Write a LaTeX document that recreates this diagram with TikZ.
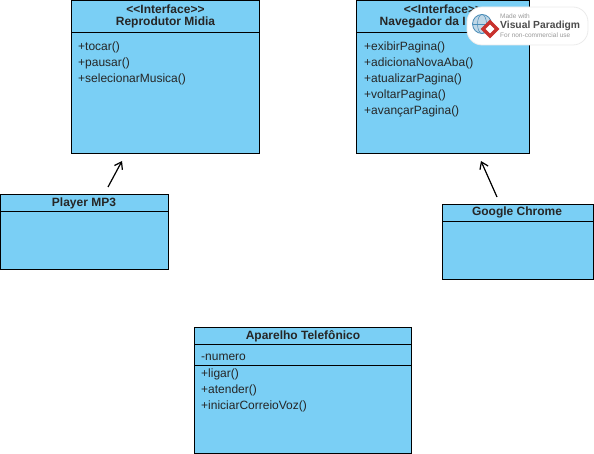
\documentclass[tikz,border=0pt]{standalone}
\usepackage{fontspec}
\setmainfont{Liberation Sans}
\usetikzlibrary{arrows.meta}
\definecolor{classblue}{HTML}{7ACFF5}
\definecolor{vpblue}{HTML}{4A8DB8}
\definecolor{vpred}{HTML}{C8322D}
\definecolor{vpgrey}{HTML}{9A9A9A}
\tikzset{
	classbox/.style={draw=black, fill=classblue, line width=0.9pt, anchor=north west, inner sep=0pt},
	classname/.style={font=\fontsize{12}{13}\selectfont\bfseries, text=black!85, inner sep=0pt},
	member/.style={font=\fontsize{12}{13}\selectfont, text=black!85, anchor=west, inner sep=0pt},
	divider/.style={black, line width=0.9pt},
	realize/.style={-{Straight Barb[length=6.5pt,width=9pt]}, black, line width=1.2pt},
}
\begin{document}
\begin{tikzpicture}[x=1pt, y=-1pt]
		\useasboundingbox (0,0) rectangle (594,454);
		\node[classbox, minimum width=188pt, minimum height=153pt] (midia) at (71.2,-0.3) {};
		\draw[divider] (71.2,32.7) -- (259.2,32.7);
		\node[classname] (midiast) at (165.5,9) {<{}<Interface>{}>};
		\node[classname] (midianame) at (165.5,22.5) {Reprodutor Midia};
		\node[member] (tocar) at (78,47) {+tocar()};
		\node[member] (pausar) at (78,63) {+pausar()};
		\node[member] (selecionar) at (78,79) {+selecionarMusica()};
		\node[classbox, minimum width=173pt, minimum height=153pt] (nav) at (356.4,-0.3) {};
		\draw[divider] (356.4,32.7) -- (529.4,32.7);
		\node[classname] (navst) at (443,9) {<{}<Interface>{}>};
		\node[classname, anchor=west] (navname) at (379.5,22.5) {Navegador da I};
		\node[member] (exibir) at (364,47) {+exibirPagina()};
		\node[member] (aba) at (364,63) {+adicionaNovaAba()};
		\node[member] (atualizar) at (364,79) {+atualizarPagina()};
		\node[member] (voltar) at (364,95) {+voltarPagina()};
		\node[member] (avancar) at (364,111) {+avançarPagina()};
		\node[classbox, minimum width=168pt, minimum height=75pt] (player) at (0.4,194.4) {};
		\draw[divider] (0.4,211.3) -- (168.4,211.3);
		\node[classname] (playername) at (84,203) {Player MP3};
		\node[classbox, minimum width=151pt, minimum height=75pt] (chrome) at (442.4,204.4) {};
		\draw[divider] (442.4,221.3) -- (593.4,221.3);
		\node[classname] (chromename) at (517,212.5) {Google Chrome};
		\node[classbox, minimum width=217pt, minimum height=126pt] (fone) at (194.4,327.3) {};
		\draw[divider] (194.4,344) -- (411.4,344);
		\draw[divider] (194.4,365.4) -- (411.4,365.4);
		\node[classname] (fonename) at (303,336) {Aparelho Telefônico};
		\node[member] (numero) at (201,357) {-numero};
		\node[member] (ligar) at (201,374) {+ligar()};
		\node[member] (atender) at (201,390) {+atender()};
		\node[member] (correio) at (201,406) {+iniciarCorreioVoz()};
		\coordinate (playerend) at (108,187);
		\coordinate (midiaend) at (122,161);
		\coordinate (chromeend) at (497,197);
		\coordinate (navend) at (481,161);
		\draw[realize] (playerend) -- (midiaend);
		\draw[realize] (chromeend) -- (navend);
		\filldraw[draw=black!8, fill=white, line width=0.8pt, rounded corners=15pt] (467,7) rectangle (588,45);
		\filldraw[draw=vpblue, fill=vpblue!35, line width=0.8pt] (482,24) circle (9.5pt);
		\draw[vpblue, line width=0.5pt] (482,24) ellipse (4.5pt and 9.5pt);
		\draw[vpblue, line width=0.5pt] (472.5,24) -- (491.5,24);
		\filldraw[vpred] (490,20) -- (499,29) -- (490,38) -- (481,29) -- cycle;
		\filldraw[white] (490,25) -- (494,29) -- (490,33) -- (486,29) -- cycle;
		\node[font=\fontsize{6.5}{7}\selectfont, text=vpgrey, anchor=west, inner sep=0pt] (madewith) at (500,16.5) {Made with};
		\node[font=\fontsize{10.3}{11}\selectfont\bfseries, text=black!70, anchor=west, inner sep=0pt] (vpname) at (500,25.7) {Visual Paradigm};
		\node[font=\fontsize{6.5}{7}\selectfont, text=vpgrey, anchor=west, inner sep=0pt] (noncomm) at (500,35) {For non-commercial use};
		\end{tikzpicture}
\end{document}
